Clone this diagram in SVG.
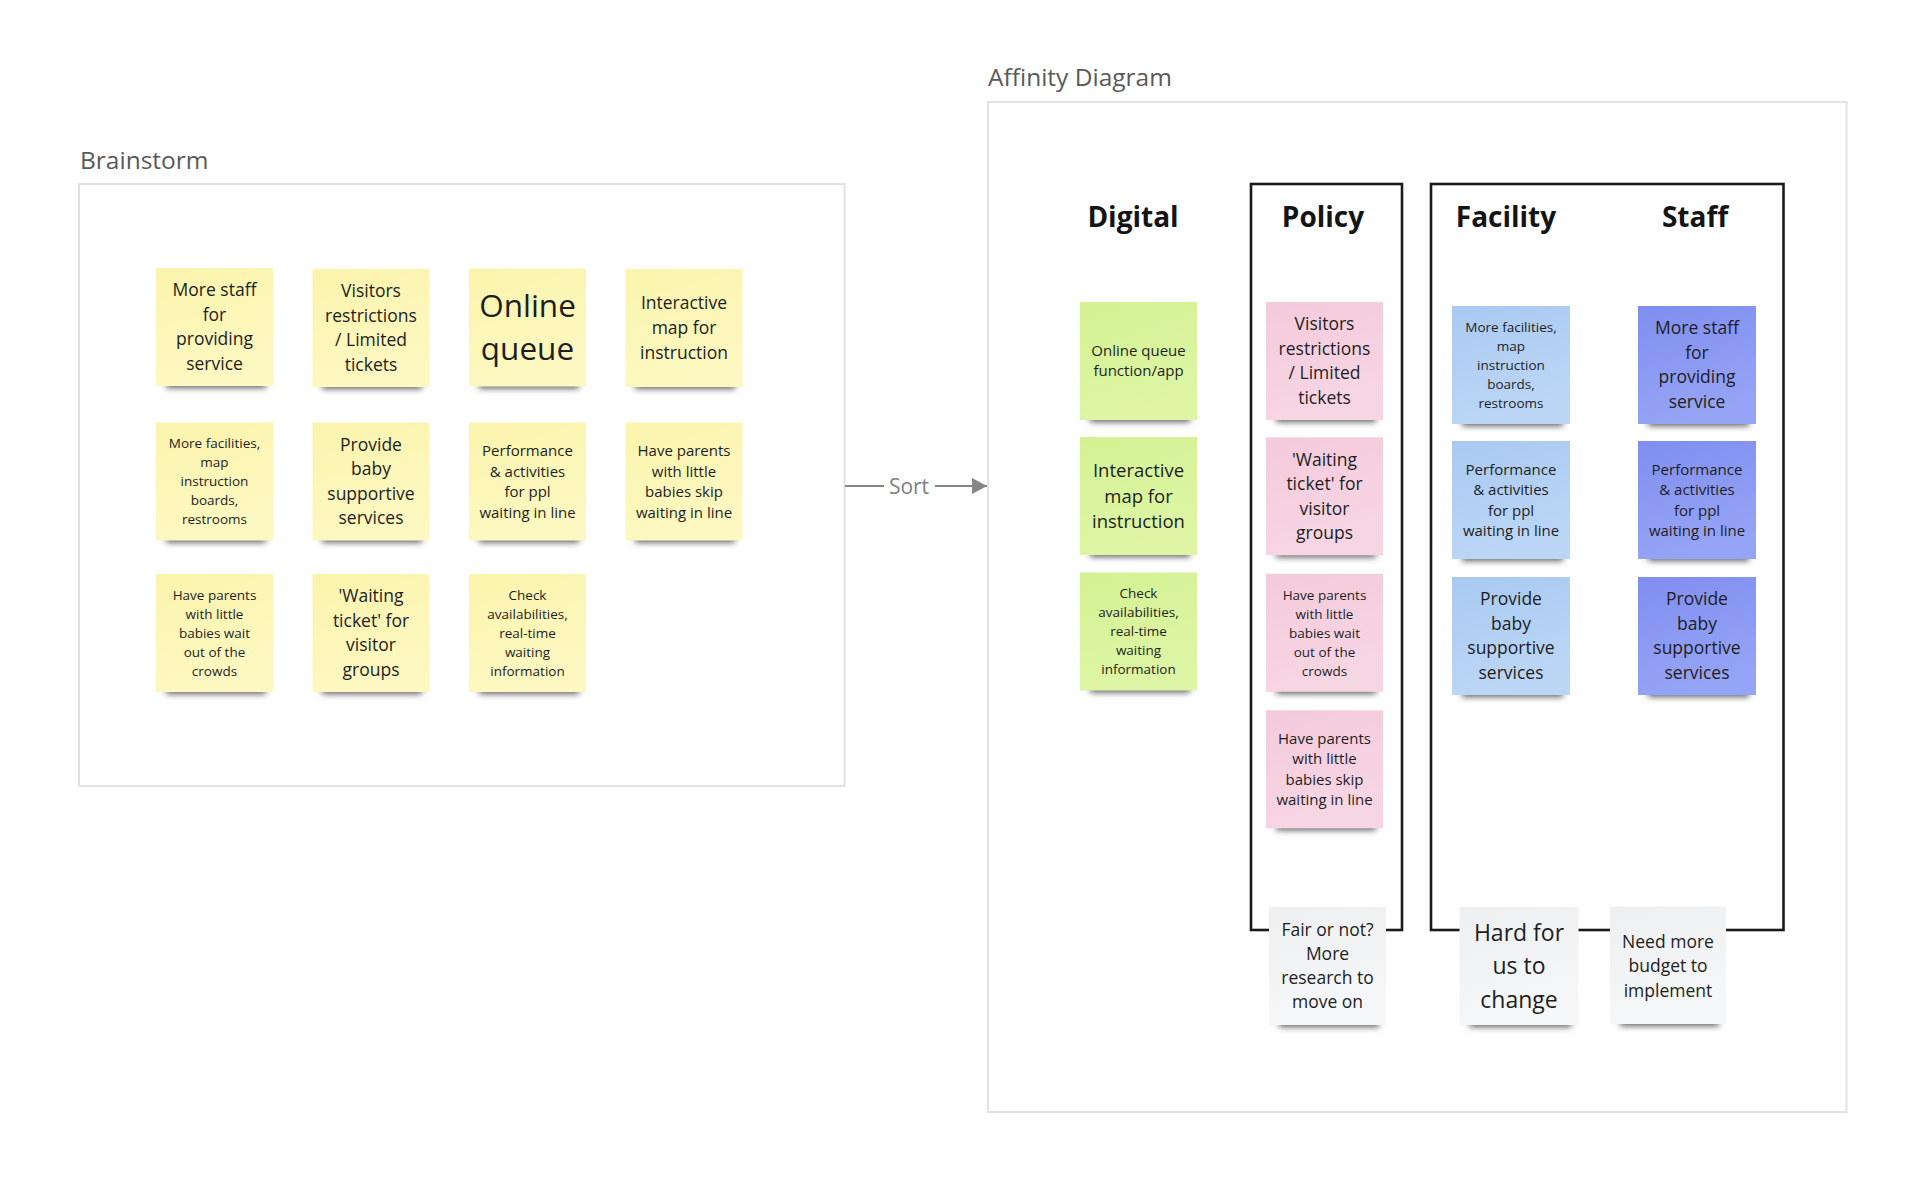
<svg xmlns="http://www.w3.org/2000/svg" width="1920" height="1188" viewBox="0 0 1920 1188">
<defs>
<style>
.lbl{font-family:"Open Sans","Noto Sans","Liberation Sans",sans-serif;font-size:24.5px;fill:#5a5a5a}
.frame{fill:#ffffff;stroke:#e2e2e2;stroke-width:2}
.cat{fill:none;stroke:#1a1a1a;stroke-width:2.6}
.hd{font-family:"Open Sans","Noto Sans","Liberation Sans",sans-serif;font-size:28px;font-weight:700;fill:#141414;text-anchor:middle}
.note text{font-family:"Open Sans","Noto Sans","Liberation Sans",sans-serif;fill:#1e1e1e;text-anchor:middle}
.sh{fill:#000;opacity:0.62}
.f135{font-size:13.5px}
.f15{font-size:15px}
.f175{font-size:17.5px}
.f185{font-size:18.5px}
.f23{font-size:23px}
.f33{font-size:31.5px}
.y{fill:url(#gy)}
.g{fill:url(#gg)}
.p{fill:url(#gp)}
.lb{fill:url(#glb)}
.db{fill:url(#gdb)}
.gr{fill:url(#ggr)}
.conn{fill:none;stroke:#858585;stroke-width:1.8}
.sort{font-family:"Open Sans","Noto Sans","Liberation Sans",sans-serif;font-size:21px;fill:#808080}
</style>
<filter id="blur" x="-20%" y="-100%" width="140%" height="300%"><feGaussianBlur stdDeviation="3.4"/></filter>
<linearGradient id="gy" x1="0" y1="0" x2="0.3" y2="1"><stop offset="0" stop-color="#fbf4ad"/><stop offset="1" stop-color="#fdf8c1"/></linearGradient>
<linearGradient id="gg" x1="0" y1="0" x2="0.3" y2="1"><stop offset="0" stop-color="#d4f293"/><stop offset="1" stop-color="#ddf5a5"/></linearGradient>
<linearGradient id="gp" x1="0" y1="0" x2="0.3" y2="1"><stop offset="0" stop-color="#f4cadb"/><stop offset="1" stop-color="#f7d6e4"/></linearGradient>
<linearGradient id="glb" x1="0" y1="0" x2="0.3" y2="1"><stop offset="0" stop-color="#a9c9f1"/><stop offset="1" stop-color="#bcd7f6"/></linearGradient>
<linearGradient id="gdb" x1="0" y1="0" x2="0.3" y2="1"><stop offset="0" stop-color="#7f8ef0"/><stop offset="1" stop-color="#96a4f5"/></linearGradient>
<linearGradient id="ggr" x1="0" y1="0" x2="0.3" y2="1"><stop offset="0" stop-color="#eeeff1"/><stop offset="1" stop-color="#f6f7f9"/></linearGradient>
<marker id="arrow" viewBox="0 0 16 16" refX="15" refY="8" markerWidth="16" markerHeight="16" markerUnits="userSpaceOnUse" orient="auto"><path d="M0,0 L15,8 L0,16 Z" fill="#858585"/></marker>
</defs>
<rect width="1920" height="1188" fill="#ffffff"/>

<g id="brainstorm-frame">
<text class="lbl" x="80" y="169">Brainstorm</text>
<rect class="frame" x="79" y="184" width="765.5" height="602"/>
</g>
<g id="affinity-frame">
<text class="lbl" x="988" y="86">Affinity Diagram</text>
<rect class="frame" x="988" y="102" width="858.5" height="1010"/>
</g>

<g id="connectors">
<path class="conn" d="M845,486 H884 M935,486 H987" marker-end="url(#arrow)"/>
<text class="sort" x="909" y="494" text-anchor="middle">Sort</text>
</g>

<g id="category-boxes">
<rect class="cat" x="1251" y="184" width="151" height="746"/>
<rect class="cat" x="1431" y="184" width="352.5" height="746"/>
<text class="hd" x="1133" y="227">Digital</text>
<text class="hd" x="1323" y="227">Policy</text>
<text class="hd" x="1506" y="227">Facility</text>
<text class="hd" x="1695" y="227">Staff</text>
</g>

<!-- Brainstorm notes -->
<g id="b1" class="note"><rect class="sh" x="166" y="378" width="100" height="10" filter="url(#blur)"/><rect class="y" x="156" y="268" width="117" height="118"/>
<text class="f175" x="214.5"><tspan x="214.5" y="296.4">More staff</tspan><tspan x="214.5" y="320.9">for</tspan><tspan x="214.5" y="345.4">providing</tspan><tspan x="214.5" y="369.9">service</tspan></text></g>
<g id="b2" class="note"><rect class="sh" x="322" y="379" width="100" height="10" filter="url(#blur)"/><rect class="y" x="312.5" y="269" width="117" height="118"/>
<text class="f175" x="371"><tspan x="371" y="297.4">Visitors</tspan><tspan x="371" y="321.9">restrictions</tspan><tspan x="371" y="346.4">/ Limited</tspan><tspan x="371" y="370.9">tickets</tspan></text></g>
<g id="b3" class="note"><rect class="sh" x="479" y="378.5" width="100" height="10" filter="url(#blur)"/><rect class="y" x="469" y="268.5" width="117" height="118"/>
<text class="f33" x="527.5"><tspan x="527.5" y="317">Online</tspan><tspan x="527.5" y="360">queue</tspan></text></g>
<g id="b4" class="note"><rect class="sh" x="635" y="379" width="100" height="10" filter="url(#blur)"/><rect class="y" x="625.5" y="269" width="117" height="118"/>
<text class="f175" x="684"><tspan x="684" y="309.1">Interactive</tspan><tspan x="684" y="334.1">map for</tspan><tspan x="684" y="359.1">instruction</tspan></text></g>

<g id="b5" class="note"><rect class="sh" x="166" y="532.5" width="100" height="10" filter="url(#blur)"/><rect class="y" x="156" y="422.5" width="117" height="118"/>
<text class="f135" x="214.5"><tspan x="214.5" y="448.2">More facilities,</tspan><tspan x="214.5" y="467.2">map</tspan><tspan x="214.5" y="486.2">instruction</tspan><tspan x="214.5" y="505.2">boards,</tspan><tspan x="214.5" y="524.2">restrooms</tspan></text></g>
<g id="b6" class="note"><rect class="sh" x="322" y="532.5" width="100" height="10" filter="url(#blur)"/><rect class="y" x="312.5" y="422.5" width="117" height="118"/>
<text class="f175" x="371"><tspan x="371" y="450.9">Provide</tspan><tspan x="371" y="475.4">baby</tspan><tspan x="371" y="499.9">supportive</tspan><tspan x="371" y="524.4">services</tspan></text></g>
<g id="b7" class="note"><rect class="sh" x="479" y="532.5" width="100" height="10" filter="url(#blur)"/><rect class="y" x="469" y="422.5" width="117" height="118"/>
<text class="f15" x="527.5"><tspan x="527.5" y="456">Performance</tspan><tspan x="527.5" y="476.5">&amp; activities</tspan><tspan x="527.5" y="497">for ppl</tspan><tspan x="527.5" y="517.5">waiting in line</tspan></text></g>
<g id="b8" class="note"><rect class="sh" x="635" y="532.5" width="100" height="10" filter="url(#blur)"/><rect class="y" x="625.5" y="422.5" width="117" height="118"/>
<text class="f15" x="684"><tspan x="684" y="456">Have parents</tspan><tspan x="684" y="476.5">with little</tspan><tspan x="684" y="497">babies skip</tspan><tspan x="684" y="517.5">waiting in line</tspan></text></g>

<g id="b9" class="note"><rect class="sh" x="166" y="684" width="100" height="10" filter="url(#blur)"/><rect class="y" x="156" y="574" width="117" height="118"/>
<text class="f135" x="214.5"><tspan x="214.5" y="599.7">Have parents</tspan><tspan x="214.5" y="618.7">with little</tspan><tspan x="214.5" y="637.7">babies wait</tspan><tspan x="214.5" y="656.7">out of the</tspan><tspan x="214.5" y="675.7">crowds</tspan></text></g>
<g id="b10" class="note"><rect class="sh" x="322" y="684" width="100" height="10" filter="url(#blur)"/><rect class="y" x="312.5" y="574" width="117" height="118"/>
<text class="f175" x="371"><tspan x="371" y="602.4">'Waiting</tspan><tspan x="371" y="626.9">ticket' for</tspan><tspan x="371" y="651.4">visitor</tspan><tspan x="371" y="675.9">groups</tspan></text></g>
<g id="b11" class="note"><rect class="sh" x="479" y="684" width="100" height="10" filter="url(#blur)"/><rect class="y" x="469" y="574" width="117" height="118"/>
<text class="f135" x="527.5"><tspan x="527.5" y="599.7">Check</tspan><tspan x="527.5" y="618.7">availabilities,</tspan><tspan x="527.5" y="637.7">real-time</tspan><tspan x="527.5" y="656.7">waiting</tspan><tspan x="527.5" y="675.7">information</tspan></text></g>

<!-- Digital -->
<g id="d1" class="note"><rect class="sh" x="1090" y="412" width="100" height="10" filter="url(#blur)"/><rect class="g" x="1080" y="302" width="117" height="118"/>
<text class="f15" x="1138.5"><tspan x="1138.5" y="355.5">Online queue</tspan><tspan x="1138.5" y="375.5">function/app</tspan></text></g>
<g id="d2" class="note"><rect class="sh" x="1090" y="547" width="100" height="10" filter="url(#blur)"/><rect class="g" x="1080" y="437" width="117" height="118"/>
<text class="f185" x="1138.5"><tspan x="1138.5" y="477">Interactive</tspan><tspan x="1138.5" y="502.5">map for</tspan><tspan x="1138.5" y="528">instruction</tspan></text></g>
<g id="d3" class="note"><rect class="sh" x="1090" y="682.5" width="100" height="10" filter="url(#blur)"/><rect class="g" x="1080" y="572.5" width="117" height="118"/>
<text class="f135" x="1138.5"><tspan x="1138.5" y="598.2">Check</tspan><tspan x="1138.5" y="617.2">availabilities,</tspan><tspan x="1138.5" y="636.2">real-time</tspan><tspan x="1138.5" y="655.2">waiting</tspan><tspan x="1138.5" y="674.2">information</tspan></text></g>

<!-- Policy -->
<g id="p1" class="note"><rect class="sh" x="1276" y="412" width="100" height="10" filter="url(#blur)"/><rect class="p" x="1266" y="302" width="117" height="118"/>
<text class="f175" x="1324.5"><tspan x="1324.5" y="330.4">Visitors</tspan><tspan x="1324.5" y="354.9">restrictions</tspan><tspan x="1324.5" y="379.4">/ Limited</tspan><tspan x="1324.5" y="403.9">tickets</tspan></text></g>
<g id="p2" class="note"><rect class="sh" x="1276" y="547.3" width="100" height="10" filter="url(#blur)"/><rect class="p" x="1266" y="437.3" width="117" height="118"/>
<text class="f175" x="1324.5"><tspan x="1324.5" y="465.6">'Waiting</tspan><tspan x="1324.5" y="490.1">ticket' for</tspan><tspan x="1324.5" y="514.6">visitor</tspan><tspan x="1324.5" y="539.1">groups</tspan></text></g>
<g id="p3" class="note"><rect class="sh" x="1276" y="683.8" width="100" height="10" filter="url(#blur)"/><rect class="p" x="1266" y="573.8" width="117" height="118"/>
<text class="f135" x="1324.5"><tspan x="1324.5" y="599.5">Have parents</tspan><tspan x="1324.5" y="618.5">with little</tspan><tspan x="1324.5" y="637.5">babies wait</tspan><tspan x="1324.5" y="656.5">out of the</tspan><tspan x="1324.5" y="675.5">crowds</tspan></text></g>
<g id="p4" class="note"><rect class="sh" x="1276" y="820.3" width="100" height="10" filter="url(#blur)"/><rect class="p" x="1266" y="710.3" width="117" height="118"/>
<text class="f15" x="1324.5"><tspan x="1324.5" y="743.8">Have parents</tspan><tspan x="1324.5" y="764.3">with little</tspan><tspan x="1324.5" y="784.8">babies skip</tspan><tspan x="1324.5" y="805.3">waiting in line</tspan></text></g>

<!-- Facility -->
<g id="f1" class="note"><rect class="sh" x="1462" y="416" width="101" height="10" filter="url(#blur)"/><rect class="lb" x="1452" y="306" width="118" height="118"/>
<text class="f135" x="1511"><tspan x="1511" y="331.7">More facilities,</tspan><tspan x="1511" y="350.7">map</tspan><tspan x="1511" y="369.7">instruction</tspan><tspan x="1511" y="388.7">boards,</tspan><tspan x="1511" y="407.7">restrooms</tspan></text></g>
<g id="f2" class="note"><rect class="sh" x="1462" y="551" width="101" height="10" filter="url(#blur)"/><rect class="lb" x="1452" y="441" width="118" height="118"/>
<text class="f15" x="1511"><tspan x="1511" y="474.5">Performance</tspan><tspan x="1511" y="495">&amp; activities</tspan><tspan x="1511" y="515.5">for ppl</tspan><tspan x="1511" y="536">waiting in line</tspan></text></g>
<g id="f3" class="note"><rect class="sh" x="1462" y="687" width="101" height="10" filter="url(#blur)"/><rect class="lb" x="1452" y="577" width="118" height="118"/>
<text class="f175" x="1511"><tspan x="1511" y="605.4">Provide</tspan><tspan x="1511" y="629.9">baby</tspan><tspan x="1511" y="654.4">supportive</tspan><tspan x="1511" y="678.9">services</tspan></text></g>

<!-- Staff -->
<g id="s1" class="note"><rect class="sh" x="1648" y="416" width="101" height="10" filter="url(#blur)"/><rect class="db" x="1638" y="306" width="118" height="118"/>
<text class="f175" x="1697"><tspan x="1697" y="334.4">More staff</tspan><tspan x="1697" y="358.9">for</tspan><tspan x="1697" y="383.4">providing</tspan><tspan x="1697" y="407.9">service</tspan></text></g>
<g id="s2" class="note"><rect class="sh" x="1648" y="551" width="101" height="10" filter="url(#blur)"/><rect class="db" x="1638" y="441" width="118" height="118"/>
<text class="f15" x="1697"><tspan x="1697" y="474.5">Performance</tspan><tspan x="1697" y="495">&amp; activities</tspan><tspan x="1697" y="515.5">for ppl</tspan><tspan x="1697" y="536">waiting in line</tspan></text></g>
<g id="s3" class="note"><rect class="sh" x="1648" y="687" width="101" height="10" filter="url(#blur)"/><rect class="db" x="1638" y="577" width="118" height="118"/>
<text class="f175" x="1697"><tspan x="1697" y="605.4">Provide</tspan><tspan x="1697" y="629.9">baby</tspan><tspan x="1697" y="654.4">supportive</tspan><tspan x="1697" y="678.9">services</tspan></text></g>

<!-- Bottom comments -->
<g id="c1" class="note"><rect class="sh" x="1279" y="1017" width="100" height="10" filter="url(#blur)"/><rect class="gr" x="1269" y="907" width="117" height="118"/>
<text class="f175" x="1327.5"><tspan x="1327.5" y="936.1">Fair or not?</tspan><tspan x="1327.5" y="960.1">More</tspan><tspan x="1327.5" y="984.1">research to</tspan><tspan x="1327.5" y="1008.1">move on</tspan></text></g>
<g id="c2" class="note"><rect class="sh" x="1469.5" y="1017" width="102" height="10" filter="url(#blur)"/><rect class="gr" x="1459.5" y="907" width="119" height="118"/>
<text class="f23" x="1519"><tspan x="1519" y="940.5">Hard for</tspan><tspan x="1519" y="974">us to</tspan><tspan x="1519" y="1007.5">change</tspan></text></g>
<g id="c3" class="note"><rect class="sh" x="1620" y="1016" width="99" height="10" filter="url(#blur)"/><rect class="gr" x="1610" y="906.5" width="116" height="117.5"/>
<text class="f175" x="1668"><tspan x="1668" y="947.6">Need more</tspan><tspan x="1668" y="972.1">budget to</tspan><tspan x="1668" y="996.6">implement</tspan></text></g>
</svg>
